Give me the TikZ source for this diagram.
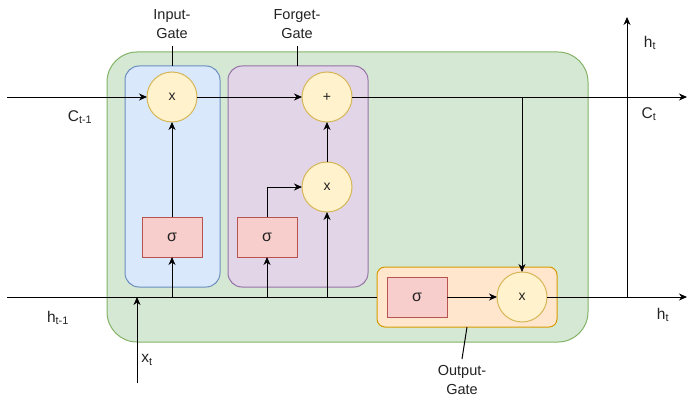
\documentclass[tikz,border=0pt]{standalone}
\usepackage{fontspec}
\setmainfont{Liberation Sans}
\usetikzlibrary{arrows.meta}
\definecolor{gfill}{HTML}{D5E8D4}\definecolor{gline}{HTML}{82B366}
\definecolor{bfill}{HTML}{DAE8FC}\definecolor{bline}{HTML}{6C8EBF}
\definecolor{pfill}{HTML}{E1D5E7}\definecolor{pline}{HTML}{9673A6}
\definecolor{ofill}{HTML}{FFE6CC}\definecolor{oline}{HTML}{D79B00}
\definecolor{cfill}{HTML}{FFF2CC}\definecolor{cline}{HTML}{D6B656}
\definecolor{sfill}{HTML}{F8CECC}\definecolor{sline}{HTML}{B85450}
\definecolor{txt}{HTML}{222222}
\begin{document}
\begin{tikzpicture}[x=1pt,y=-1pt,line width=1pt,
  every node/.style={inner sep=0pt,outer sep=0pt,text=txt,font=\fontsize{15.5}{19}\selectfont},
  group/.style={draw,rectangle},
  opnode/.style={circle,draw=cline,fill=cfill,minimum size=50pt,font=\fontsize{14}{16}\selectfont},
  sigbox/.style={rectangle,draw=sline,fill=sfill,minimum width=60pt,minimum height=40pt,font=\fontsize{16}{18}\selectfont},
  arr/.style={-{Stealth[length=8pt,width=7pt,inset=2.5pt]}},
  lab/.style={align=center,font=\fontsize{14.5}{19}\selectfont}]
\useasboundingbox (0,0) rectangle (696,404);
% groups
\node[group,draw=gline,fill=gfill,rounded corners=30pt,minimum width=481pt,minimum height=290pt] (cell) at (347.5,197) {};
\node[group,draw=bline,fill=bfill,rounded corners=14pt,minimum width=95pt,minimum height=221pt] (ig) at (172.5,176.5) {};
\node[group,draw=pline,fill=pfill,rounded corners=14pt,minimum width=140pt,minimum height=221pt] (fg) at (298,176.5) {};
\node[group,draw=oline,fill=ofill,rounded corners=8pt,minimum width=180pt,minimum height=60pt] (og) at (467,297) {};
% operators
\node[opnode] (mx) at (172,97) {x};
\node[opnode] (plus) at (327,97) {+};
\node[opnode] (fx) at (327,187) {x};
\node[opnode] (ox) at (522,297) {x};
\node[sigbox] (s1) at (172,237) {σ};
\node[sigbox] (s2) at (267,237) {σ};
\node[sigbox] (s3) at (417,297) {σ};
% coordinates
\coordinate (cin) at (7,97);
\coordinate (cout) at (687,97);
\coordinate (hin) at (7,297);
\coordinate (hout) at (687,297);
\coordinate (hup) at (627,17);
\coordinate (hsplit) at (627,297);
\coordinate (xin) at (137,383);
% labels
\node[lab] (ilab) at (172,24) {Input-\\Gate};
\node[lab] (flab) at (297,24) {Forget-\\Gate};
\node[lab] (olab) at (462,380) {Output-\\Gate};
\node (lc0) at (80,117) {C\textsubscript{t-1}};
\node (lh0) at (58,318) {h\textsubscript{t-1}};
\node (lx) at (147,360) {x\textsubscript{t}};
\node (lc1) at (649,114) {C\textsubscript{t}};
\node (lh1) at (650,43) {h\textsubscript{t}};
\node (lh2) at (663,315) {h\textsubscript{t}};
% label leaders
\draw (172,46) -- (ig.north -| 172,0);
\draw (297,46) -- (fg.north -| 297,0);
\draw (og.south -| 467,0) -- (462,359);
% connectors
\draw[arr] (cin) -- (mx.west);
\draw[arr] (mx.east) -- (plus.west);
\draw[arr] (plus.east) -- (cout);
\draw[arr] (ox |- plus) -- (ox.north);
\draw (hin) -- (og.west);
\draw[arr] (ox.east) -- (hout);
\draw[arr] (hsplit) -- (hup);
\draw[arr] (s1 |- hin) -- (s1.south);
\draw[arr] (s1.north) -- (mx.south);
\draw[arr] (s2 |- hin) -- (s2.south);
\draw[arr] (s2.north) |- (fx.west);
\draw[arr] (fx |- hin) -- (fx.south);
\draw[arr] (fx.north) -- (plus.south);
\draw[arr] (xin) -- (xin |- hin);
\draw[arr] (s3.east) -- (ox.west);
\end{tikzpicture}
\end{document}
